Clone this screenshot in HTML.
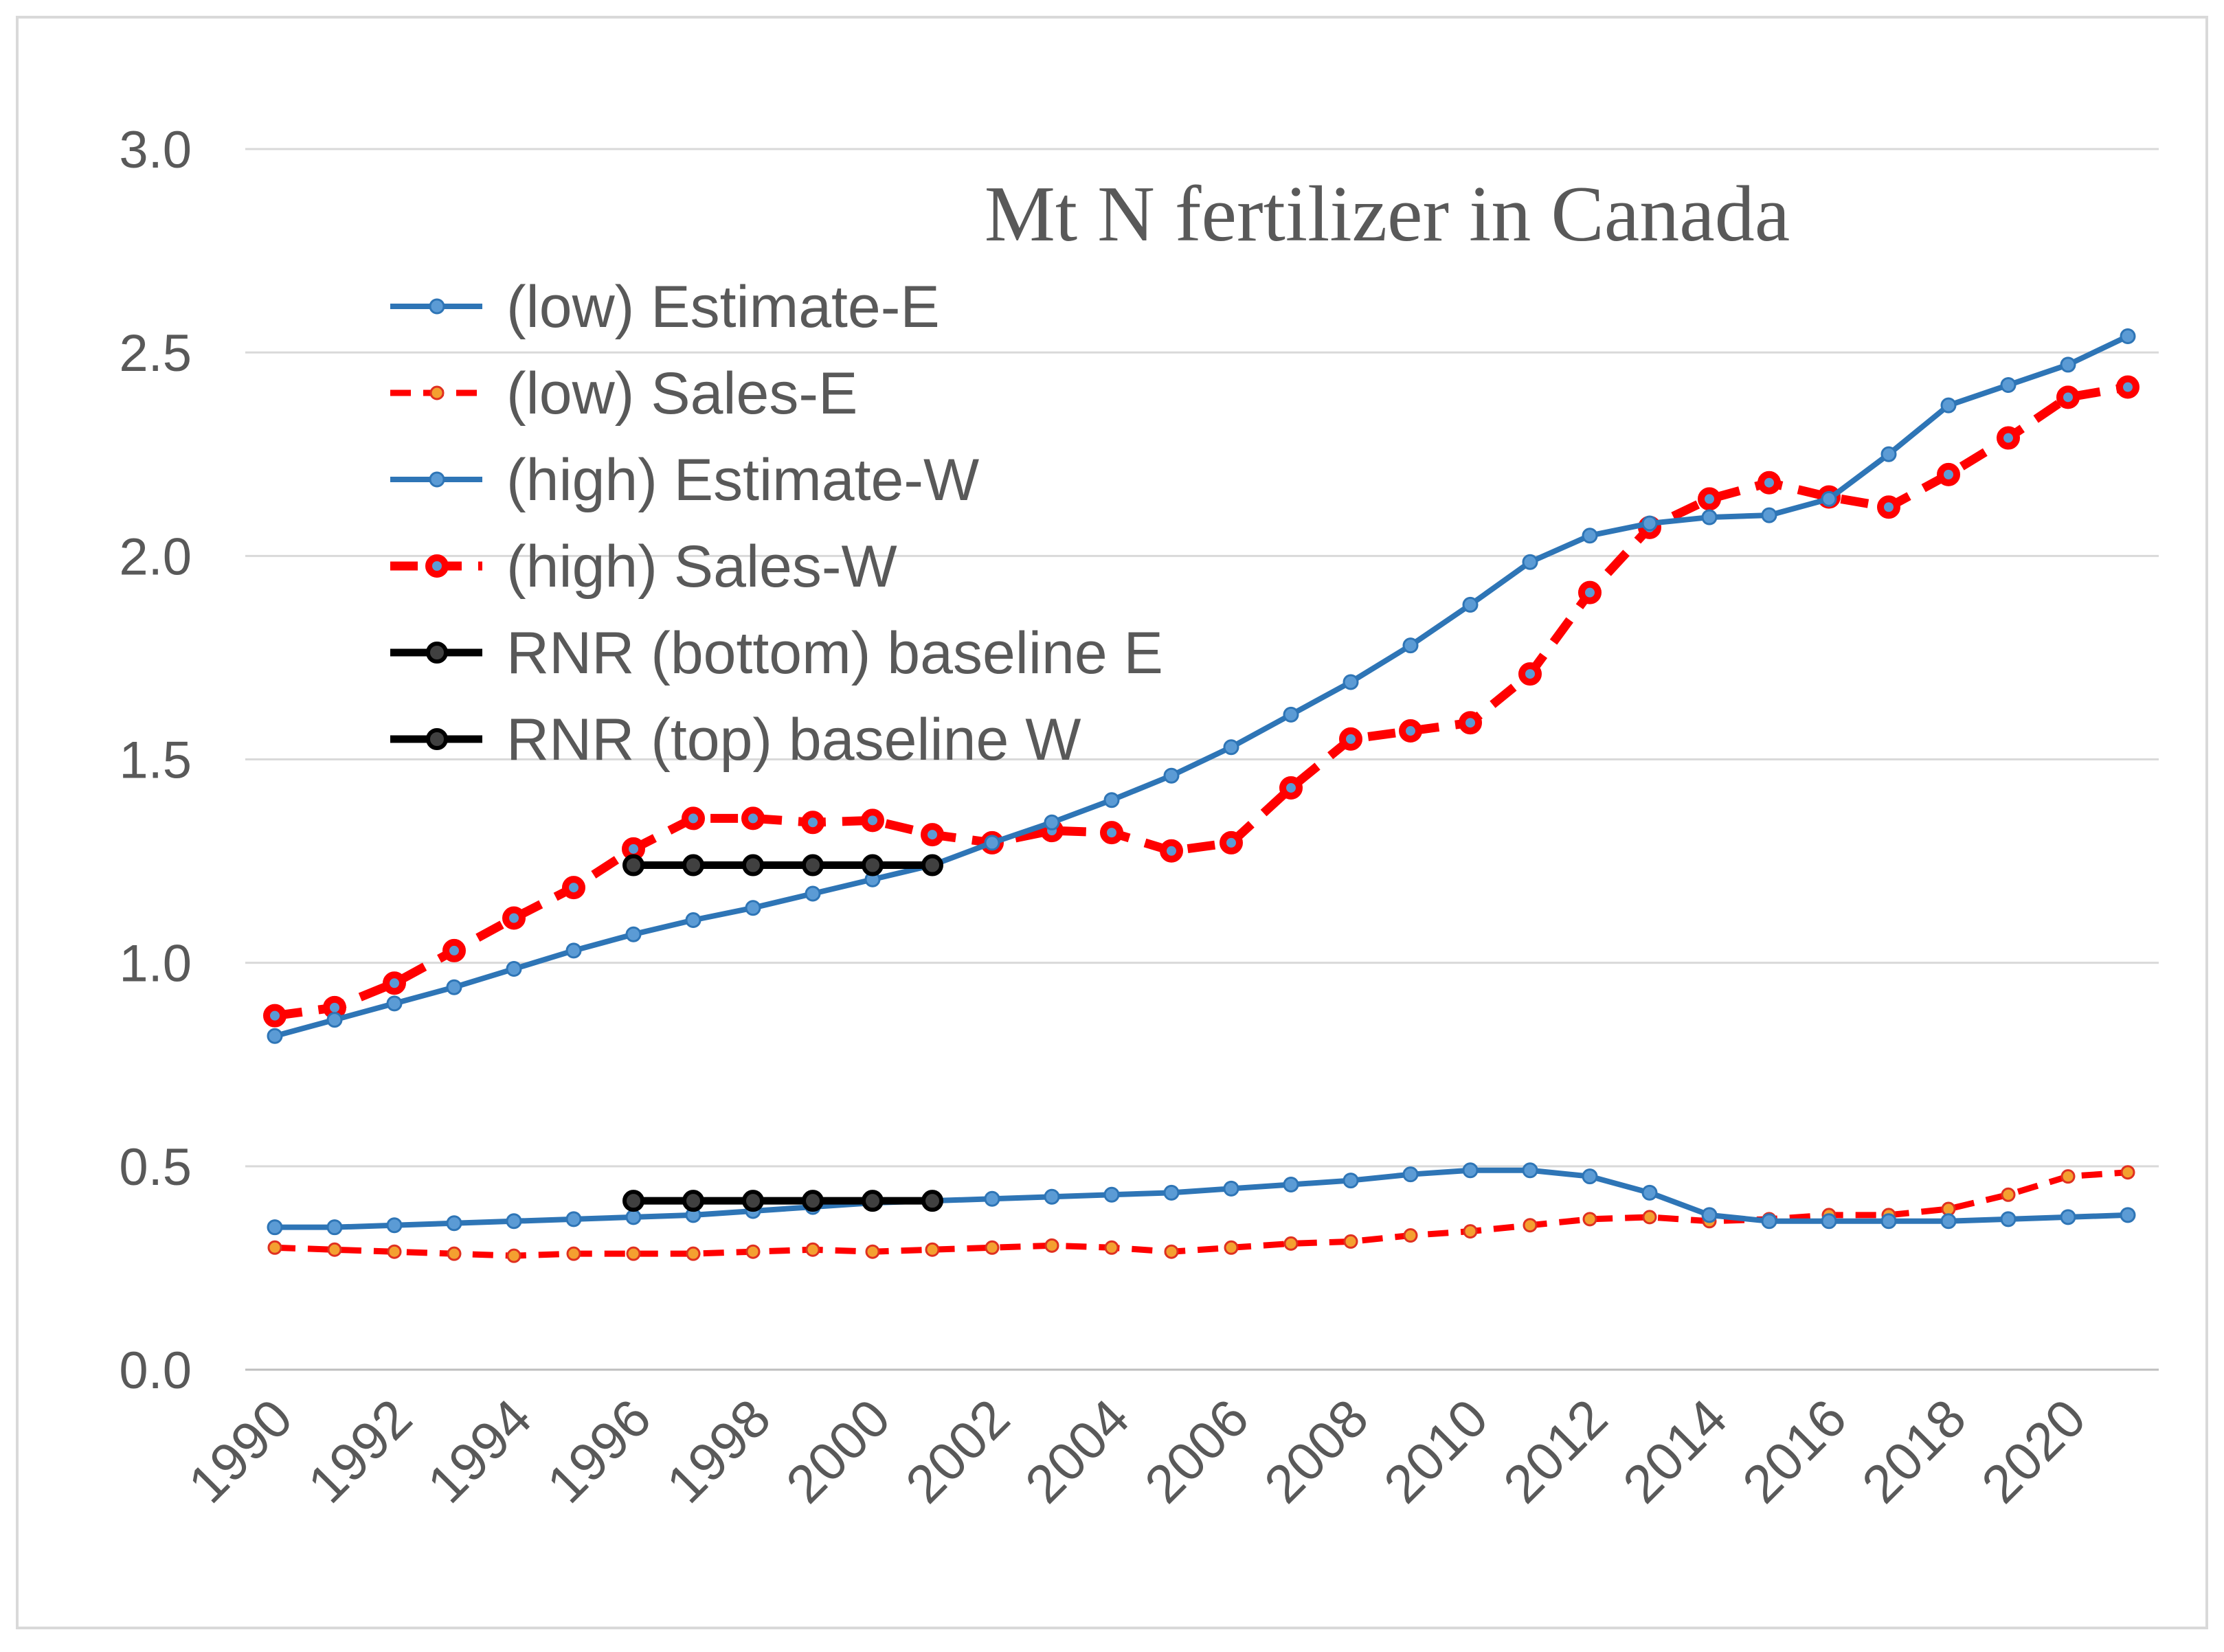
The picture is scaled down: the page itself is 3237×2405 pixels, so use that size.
<!DOCTYPE html>
<html><head><meta charset="utf-8"><style>
html,body{margin:0;padding:0;background:#fff;}
svg{display:block;}
</style></head><body>
<svg id="chart" width="3237" height="2405" xmlns="http://www.w3.org/2000/svg">
<rect x="25" y="25" width="3187" height="2345" fill="#fff" stroke="#d9d9d9" stroke-width="4"/>
<g id="grid"></g><g id="axes"></g><g id="series"></g><g id="legend"></g>
<text x="2019" y="350" text-anchor="middle" font-family="Liberation Serif, serif" font-size="116" fill="#595959">Mt N fertilizer in Canada</text>
</svg>
<script>
const years=[];for(let y=1990;y<=2021;y++)years.push(y);
const yTicks=[0,0.5,1.0,1.5,2.0,2.5,3.0];
const xTickLabels=[1990,1992,1994,1996,1998,2000,2002,2004,2006,2008,2010,2012,2014,2016,2018,2020];
const highEstW=[0.82,0.86,0.90,0.94,0.985,1.03,1.07,1.105,1.135,1.17,1.205,1.24,1.295,1.345,1.40,1.46,1.53,1.61,1.69,1.78,1.88,1.985,2.05,2.08,2.095,2.10,2.14,2.25,2.37,2.42,2.47,2.54];
const highSalesW=[0.87,0.89,0.95,1.03,1.11,1.185,1.28,1.355,1.355,1.345,1.35,1.315,1.295,1.325,1.32,1.275,1.295,1.43,1.55,1.57,1.59,1.71,1.91,2.07,2.14,2.18,2.145,2.12,2.20,2.29,2.39,2.415];
const lowEstE=[0.35,0.35,0.355,0.36,0.365,0.37,0.375,0.38,0.39,0.40,0.41,0.415,0.42,0.425,0.43,0.435,0.445,0.455,0.465,0.48,0.49,0.49,0.475,0.435,0.38,0.365,0.365,0.365,0.365,0.37,0.375,0.38];
const lowSalesE=[0.30,0.295,0.29,0.285,0.28,0.285,0.285,0.285,0.29,0.295,0.29,0.295,0.30,0.305,0.30,0.29,0.30,0.31,0.315,0.33,0.34,0.355,0.37,0.375,0.365,0.37,0.38,0.38,0.395,0.43,0.475,0.485];
const rnrYears=[1996,1997,1998,1999,2000,2001];
const rnrTopW=[1.24,1.24,1.24,1.24,1.24,1.24];
const rnrBottomE=[0.415,0.415,0.415,0.415,0.415,0.415];
const NS='http://www.w3.org/2000/svg';
const X=y=>400+(y-1990)*(3097-400)/31;
const Y=v=>1994-v*(1994-217)/3;
function mk(tag,attrs,parent){const e=document.createElementNS(NS,tag);for(const k in attrs)e.setAttribute(k,attrs[k]);parent.appendChild(e);return e;}
const grid=document.getElementById('grid'),axes=document.getElementById('axes'),ser=document.getElementById('series'),leg=document.getElementById('legend');
yTicks.forEach(t=>{
 const l=mk('line',{x1:357,x2:3142,y1:Y(t),y2:Y(t),stroke:t===0?'#bfbfbf':'#d9d9d9','stroke-width':3},grid);
 
 
 const tx=mk('text',{x:279,y:Y(t)+27,'text-anchor':'end','font-family':'Liberation Sans, sans-serif','font-size':76,fill:'#595959'},axes);
 tx.textContent=t.toFixed(1);
 
 
});
xTickLabels.forEach(yr=>{
 const x=X(yr)+30,y=2070;
 const tx=mk('text',{x:x,y:y,'text-anchor':'end','font-family':'Liberation Sans, sans-serif','font-size':78,fill:'#595959',transform:`rotate(-45 ${x} ${y})`},axes);
 tx.textContent=yr;
 
 
});
function series(name,xs,vals,stroke,w,dash,mr,mfill,mstroke,msw){
 const g=mk('g',{},ser);
 
 
 const p=mk('polyline',{points:xs.map((yr,i)=>X(yr)+','+Y(vals[i])).join(' '),fill:'none',stroke:stroke,'stroke-width':w,'stroke-dasharray':dash||'none','stroke-linejoin':'round'},g);
 
 
 xs.forEach((yr,i)=>{
  const c=mk('circle',{cx:X(yr),cy:Y(vals[i]),r:mr,fill:mfill,stroke:mstroke,'stroke-width':msw},g);
  
  
 });
}
series('low-sales-e',years,lowSalesE,'#ff0000',9,'30,18',9,'#f4a030','#e03020',3);
series('low-estimate-e',years,lowEstE,'#2e75b6',8,null,10,'#5b9bd5','#2e75b6',3);
series('high-sales-w',years,highSalesW,'#ff0000',13,'40,24',12,'#5b9bd5','#ff0000',10);
series('high-estimate-w',years,highEstW,'#2e75b6',8,null,10,'#5b9bd5','#2e75b6',3);
series('rnr-top-baseline-w',rnrYears,rnrTopW,'#000',11,null,13,'#404040','#000',6);
series('rnr-bottom-baseline-e',rnrYears,rnrBottomE,'#000',11,null,13,'#404040','#000',6);
const legItems=[
 ['(low) Estimate-E','#2e75b6',8,null,10,'#5b9bd5','#2e75b6',3],
 ['(low) Sales-E','#ff0000',9,'30,18',9,'#f4a030','#e03020',3],
 ['(high) Estimate-W','#2e75b6',8,null,10,'#5b9bd5','#2e75b6',3],
 ['(high) Sales-W','#ff0000',13,'40,24',12,'#5b9bd5','#ff0000',10],
 ['RNR (bottom) baseline E','#000',11,null,13,'#404040','#000',6],
 ['RNR (top) baseline W','#000',11,null,13,'#404040','#000',6]];
legItems.forEach((it,i)=>{
 const y=446+i*126;
 const g=mk('g',{},leg);
 
 
 mk('line',{x1:568,x2:702,y1:y,y2:y,stroke:it[1],'stroke-width':it[2],'stroke-dasharray':it[3]||'none'},g);
 mk('circle',{cx:636,cy:y,r:it[4],fill:it[5],stroke:it[6],'stroke-width':it[7]},g);
 const t=mk('text',{x:737,y:y+30,'font-family':'Liberation Sans, sans-serif','font-size':86,fill:'#595959'},g);
 t.textContent=it[0];
});
</script>
</body></html>
